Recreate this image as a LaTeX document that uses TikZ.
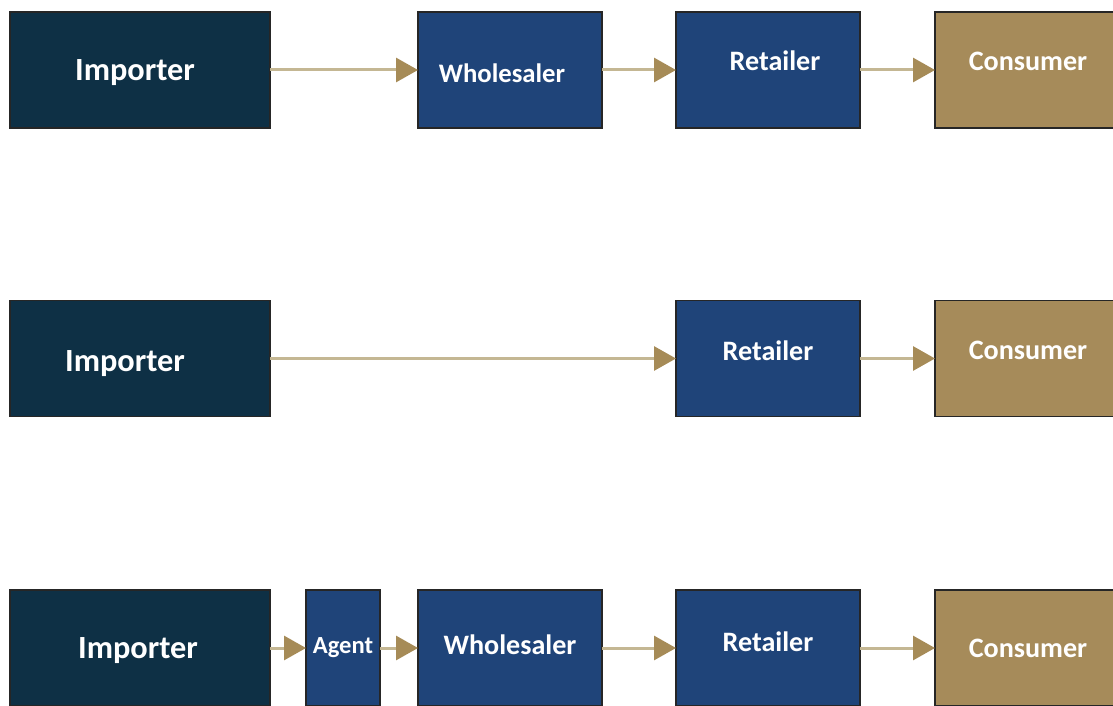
\documentclass[tikz,border=0pt]{standalone}
\usepackage{fontspec}
\setmainfont{Carlito}
\usetikzlibrary{arrows.meta, positioning}

\definecolor{impnavy}{HTML}{0E3045}
\definecolor{chainblue}{HTML}{1F4479}
\definecolor{consgold}{HTML}{A68B5A}
\definecolor{linktan}{HTML}{C4B793}
\definecolor{tipgold}{HTML}{A68B57}

\begin{document}
\begin{tikzpicture}[
    every label/.style={text=white, font=\bfseries\fontsize{20}{24}\selectfont}
]

    % Define styles for the nodes
    \tikzstyle{box} = [
        rectangle, draw=black!85, line width=0.04cm, outer sep=0pt,
        minimum height=2.9cm
    ]
    \tikzstyle{importer} = [box, fill=impnavy, minimum width=6.5cm]
    \tikzstyle{trader} = [box, fill=chainblue, minimum width=4.6cm]
    \tikzstyle{agent} = [box, fill=chainblue, minimum width=1.85cm]
    \tikzstyle{consumer} = [box, fill=consgold, minimum width=4.65cm]
    \tikzstyle{bigtext} = [font=\bfseries\fontsize{23}{27}\selectfont]
    \tikzstyle{smalltext} = [font=\bfseries\fontsize{17.5}{21}\selectfont]
    \tikzstyle{arrow} = [linktan, line width=0.075cm,
        -{Triangle[length=0.55cm, width=0.6cm, fill=tipgold, color=tipgold]}]

    \useasboundingbox (0,0) rectangle (27.825,17.625);

    % Row 1
    \node (imp1) [importer, label={[bigtext, xshift=-0.125cm, yshift=-0.075cm]center:Importer}] at (3.5,15.875) {};
    \node (whl1) [trader, right=3.7cm of imp1,
        label={[font=\bfseries\fontsize{19}{23}\selectfont, xshift=-0.2cm, yshift=-0.075cm]center:Wholesaler}] {};
    \node (ret1) [trader, right=1.85cm of whl1, label={[xshift=0.175cm, yshift=0.225cm]center:Retailer}] {};
    \node (con1) [consumer, right=1.875cm of ret1, label={[yshift=0.225cm]center:Consumer}] {};

    % Row 2
    \node (imp2) [importer, label={[bigtext, xshift=-0.375cm, yshift=-0.125cm]center:Importer}] at (3.5,8.6625) {};
    \node (ret2) [trader, right=10.15cm of imp2, label={[yshift=0.2cm]center:Retailer}] {};
    \node (con2) [consumer, right=1.875cm of ret2, label={[yshift=0.2cm]center:Consumer}] {};

    % Row 3
    \node (imp3) [importer, label={[bigtext, xshift=-0.05cm, yshift=-0.075cm]center:Importer}] at (3.5,1.425) {};
    \node (agt3) [agent, right=0.9cm of imp3, label={[smalltext]center:Agent}] {};
    \node (whl3) [trader, right=0.95cm of agt3, label={[yshift=0.075cm]center:Wholesaler}] {};
    \node (ret3) [trader, right=1.85cm of whl3, label={[yshift=0.15cm]center:Retailer}] {};
    \node (con3) [consumer, right=1.875cm of ret3, label={center:Consumer}] {};

    % Arrows
    \draw [arrow] (imp1) -- (whl1);
    \draw [arrow] (whl1) -- (ret1);
    \draw [arrow] (ret1) -- (con1);

    \draw [arrow] (imp2) -- (ret2);
    \draw [arrow] (ret2) -- (con2);

    \draw [arrow] (imp3) -- (agt3);
    \draw [arrow] (agt3) -- (whl3);
    \draw [arrow] (whl3) -- (ret3);
    \draw [arrow] (ret3) -- (con3);

\end{tikzpicture}
\end{document}
